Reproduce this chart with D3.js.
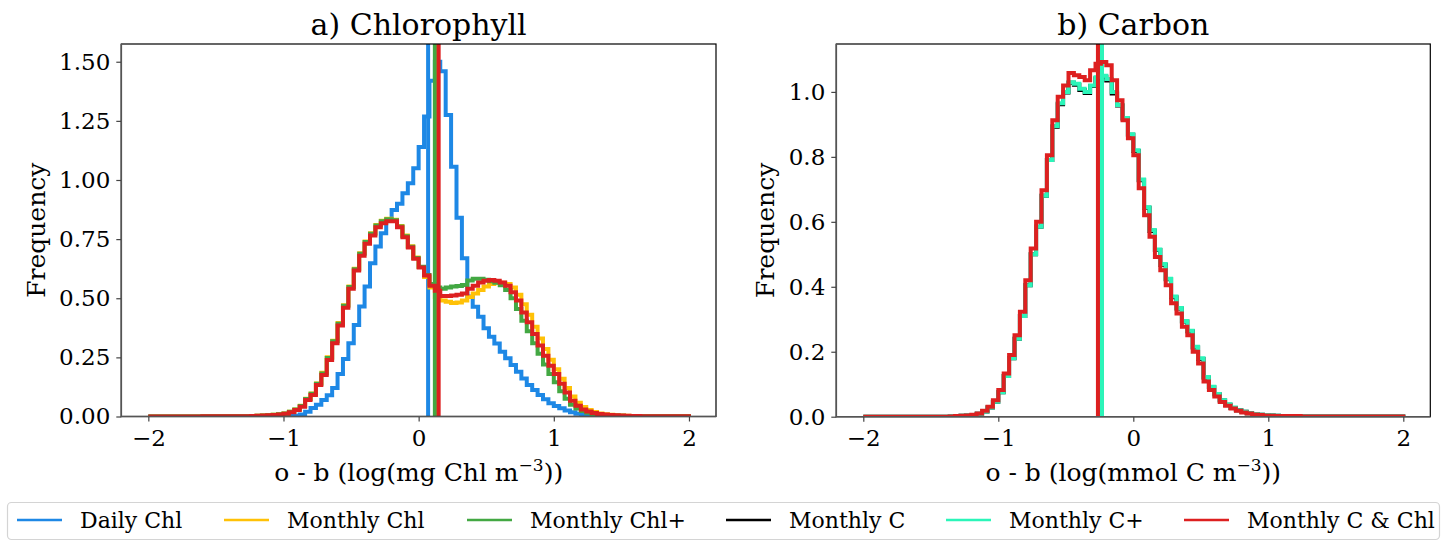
<!DOCTYPE html>
<html>
<head>
<meta charset="utf-8">
<script src="https://cdn.jsdelivr.net/npm/d3@7"></script>
<style>
    body { margin: 0; background: #fff; }
    svg text { font-family: "DejaVu Serif", serif; fill: #000; }
</style>
</head>
<body>
<div id="chart"></div>
<script>

// histogram bins: 100 bins of 0.04 from -2 to 2
const binStart = -2;
const binWidth = 0.04;

// a) Chlorophyll
const chlDaily = [
    0, 0, 0, 0, 0, 0, 0, 0, 0, 0,
    0, 0, 0, 0, 0, 0, 0, 0, 0, 0,
    0, 0, 0, 0, 0, 0.001, 0.002, 0.003, 0.008, 0.02,
    0.036, 0.05, 0.07, 0.09, 0.12, 0.18, 0.243, 0.31, 0.387, 0.465,
    0.55, 0.648, 0.719, 0.775, 0.83, 0.873, 0.90, 0.944, 0.986, 1.05,
    1.14, 1.268, 1.42, 1.50, 1.46, 1.275, 1.056, 0.84, 0.669, 0.507,
    0.464, 0.422, 0.373, 0.337, 0.309, 0.274, 0.246, 0.218, 0.189, 0.161,
    0.133, 0.112, 0.091, 0.073, 0.056, 0.044, 0.035, 0.025, 0.018, 0.012,
    0.008, 0.005, 0.003, 0.002, 0.001, 0.001, 0.001, 0.001, 0, 0,
    0, 0, 0, 0, 0, 0, 0, 0, 0, 0
];
const chlMonthly = [
    0, 0, 0, 0, 0, 0, 0, 0, 0, 0,
    0.001, 0.001, 0.001, 0.001, 0.001, 0.001, 0.001, 0.001, 0.001, 0.002,
    0.003, 0.004, 0.005, 0.007, 0.009, 0.013, 0.02, 0.03, 0.045, 0.075,
    0.097, 0.14, 0.185, 0.25, 0.32, 0.395, 0.47, 0.55, 0.625, 0.69,
    0.74, 0.775, 0.81, 0.828, 0.836, 0.832, 0.805, 0.765, 0.72, 0.672,
    0.632, 0.59, 0.545, 0.505, 0.49, 0.485, 0.48, 0.482, 0.49, 0.505,
    0.52, 0.535, 0.55, 0.56, 0.565, 0.565, 0.56, 0.545, 0.515, 0.475,
    0.43, 0.38, 0.33, 0.285, 0.24, 0.2, 0.16, 0.12, 0.085, 0.058,
    0.04, 0.028, 0.019, 0.013, 0.009, 0.007, 0.005, 0.004, 0.003, 0.002,
    0.001, 0.001, 0.001, 0.001, 0.001, 0.001, 0.001, 0.001, 0.001, 0.001
];
const chlMonthlyPlus = [
    0, 0, 0, 0, 0, 0, 0, 0, 0, 0,
    0.001, 0.001, 0.001, 0.001, 0.001, 0.001, 0.001, 0.001, 0.001, 0.002,
    0.003, 0.004, 0.005, 0.007, 0.009, 0.013, 0.02, 0.03, 0.044, 0.074,
    0.096, 0.138, 0.182, 0.247, 0.318, 0.392, 0.468, 0.548, 0.623, 0.688,
    0.738, 0.773, 0.808, 0.826, 0.834, 0.83, 0.803, 0.762, 0.718, 0.67,
    0.633, 0.598, 0.56, 0.545, 0.54, 0.545, 0.55, 0.552, 0.556, 0.575,
    0.582, 0.582, 0.578, 0.572, 0.566, 0.555, 0.535, 0.5, 0.455, 0.405,
    0.36, 0.31, 0.265, 0.22, 0.18, 0.145, 0.107, 0.075, 0.05, 0.034,
    0.023, 0.016, 0.011, 0.008, 0.006, 0.005, 0.004, 0.003, 0.002, 0.001,
    0.001, 0.001, 0.001, 0.001, 0.001, 0.001, 0.001, 0.001, 0.001, 0.001
];
const chlMonthlyCChl = [
    0, 0, 0, 0, 0, 0, 0, 0, 0, 0,
    0.001, 0.001, 0.001, 0.001, 0.001, 0.001, 0.001, 0.001, 0.001, 0.002,
    0.003, 0.004, 0.005, 0.006, 0.008, 0.012, 0.018, 0.027, 0.041, 0.07,
    0.091, 0.133, 0.175, 0.239, 0.31, 0.385, 0.46, 0.54, 0.617, 0.68,
    0.73, 0.765, 0.80, 0.817, 0.826, 0.826, 0.80, 0.758, 0.715, 0.667,
    0.63, 0.596, 0.553, 0.532, 0.51, 0.51, 0.512, 0.515, 0.52, 0.54,
    0.553, 0.567, 0.574, 0.577, 0.574, 0.567, 0.553, 0.525, 0.49, 0.44,
    0.398, 0.349, 0.30, 0.257, 0.215, 0.18, 0.138, 0.102, 0.067, 0.045,
    0.03, 0.021, 0.015, 0.011, 0.008, 0.006, 0.005, 0.004, 0.003, 0.002,
    0.002, 0.001, 0.001, 0.001, 0.001, 0.001, 0.001, 0.001, 0.001, 0.001
];
// mean o-b of each chlorophyll run (vertical lines)
const chlMeans = [0.07, 0.135, 0.12, 0.148];

// b) Carbon
const carbonMonthlyC = [
    0, 0, 0, 0, 0, 0, 0, 0, 0, 0,
    0, 0, 0, 0, 0, 0, 0.001, 0.002, 0.003, 0.004,
    0.005, 0.009, 0.016, 0.028, 0.046, 0.075, 0.125, 0.18, 0.24, 0.31,
    0.405, 0.5, 0.585, 0.68, 0.79, 0.893, 0.962, 0.998, 1.028, 1.022,
    1.006, 0.997, 1.018, 1.042, 1.047, 1.035, 0.995, 0.958, 0.918, 0.868,
    0.818, 0.728, 0.643, 0.572, 0.513, 0.468, 0.423, 0.368, 0.333, 0.293,
    0.263, 0.213, 0.178, 0.121, 0.091, 0.069, 0.05, 0.037, 0.027, 0.02,
    0.015, 0.011, 0.008, 0.006, 0.005, 0.004, 0.003, 0.002, 0.002, 0.002,
    0.002, 0.001, 0.001, 0.001, 0.001, 0.001, 0.001, 0.001, 0.001, 0.001,
    0.001, 0.001, 0.001, 0.001, 0.001, 0.001, 0.001, 0.001, 0.001, 0.001
];
const carbonMonthlyCPlus = [
    0, 0, 0, 0, 0, 0, 0, 0, 0, 0,
    0, 0, 0, 0, 0, 0, 0.001, 0.002, 0.003, 0.004,
    0.005, 0.009, 0.016, 0.028, 0.046, 0.075, 0.125, 0.18, 0.24, 0.31,
    0.405, 0.5, 0.585, 0.68, 0.79, 0.895, 0.965, 1.0, 1.03, 1.025,
    1.01, 1.0, 1.02, 1.045, 1.05, 1.04, 1.0, 0.96, 0.92, 0.87,
    0.82, 0.73, 0.645, 0.575, 0.515, 0.47, 0.425, 0.37, 0.335, 0.295,
    0.265, 0.215, 0.18, 0.122, 0.092, 0.07, 0.051, 0.038, 0.028, 0.02,
    0.015, 0.011, 0.008, 0.006, 0.005, 0.004, 0.003, 0.002, 0.002, 0.002,
    0.002, 0.001, 0.001, 0.001, 0.001, 0.001, 0.001, 0.001, 0.001, 0.001,
    0.001, 0.001, 0.001, 0.001, 0.001, 0.001, 0.001, 0.001, 0.001, 0.001
];
const carbonMonthlyCChl = [
    0, 0, 0, 0, 0, 0, 0, 0, 0, 0,
    0, 0, 0, 0, 0, 0, 0.001, 0.002, 0.003, 0.004,
    0.006, 0.01, 0.018, 0.031, 0.051, 0.082, 0.133, 0.19, 0.251, 0.323,
    0.42, 0.518, 0.60, 0.697, 0.805, 0.913, 0.985, 1.02, 1.058, 1.051,
    1.046, 1.036, 1.067, 1.087, 1.092, 1.082, 1.036, 0.974, 0.913, 0.857,
    0.805, 0.703, 0.62, 0.554, 0.492, 0.451, 0.405, 0.349, 0.318, 0.277,
    0.251, 0.2, 0.164, 0.108, 0.082, 0.062, 0.045, 0.034, 0.025, 0.018,
    0.013, 0.01, 0.007, 0.005, 0.004, 0.003, 0.002, 0.002, 0.002, 0.002,
    0.002, 0.001, 0.001, 0.001, 0.001, 0.001, 0.001, 0.001, 0.001, 0.001,
    0.001, 0.001, 0.001, 0.001, 0.001, 0.001, 0.001, 0.001, 0.001, 0.001
];
const carbonMeans = [-0.236, -0.232, -0.262];

// legend / run names and colours
const runNames = ["Daily Chl", "Monthly Chl", "Monthly Chl+", "Monthly C", "Monthly C+", "Monthly C & Chl"];
const runColors = ["#1e88e5", "#ffc107", "#43a843", "#000000", "#2bf5b9", "#dd2020"];

const xTicks = [-2, -1, 0, 1, 2];
const chlYTicks = [0, 0.25, 0.5, 0.75, 1.0, 1.25, 1.5];
const carbonYTicks = [0, 0.2, 0.4, 0.6, 0.8, 1.0];


/* * * * * * * * * * * * * *
*     class HistPanel      *
* * * * * * * * * * * * * */

class HistPanel {

    constructor(svg, config) {
        this.svg = svg;
        this.config = config;
        this.initVis();
    }

    initVis() {
        let vis = this;
        let c = vis.config;

        vis.x = d3.scaleLinear().domain([-2.2, 2.2]).range([c.left, c.right]);
        vis.y = d3.scaleLinear().domain([0, c.yMax]).range([c.bottom, c.top]);

        vis.g = vis.svg.append("g").attr("class", "panel-" + c.id);

        // clip path
        vis.g.append("defs")
            .append("clipPath")
            .attr("id", "clip-" + c.id)
            .append("rect")
            .attr("x", c.left)
            .attr("y", c.top)
            .attr("width", c.right - c.left)
            .attr("height", c.bottom - c.top);

        vis.plot = vis.g.append("g").attr("clip-path", "url(#clip-" + c.id + ")");

        // step line generator
        vis.line = d3.line()
            .curve(d3.curveStepAfter)
            .x(d => vis.x(d[0]))
            .y(d => vis.y(d[1]));

        vis.wrangleData();
    }

    wrangleData() {
        let vis = this;

        // outline points of each histogram: up from 0 at the first edge, down to 0 at the last one
        vis.displayData = vis.config.series.map(s => {
            let pts = [[binStart, 0]];
            s.values.forEach((v, i) => pts.push([binStart + i * binWidth, v]));
            pts.push([binStart + s.values.length * binWidth, 0]);
            return {color: s.color, mean: s.mean, pts: pts};
        });

        vis.updateVis();
    }

    updateVis() {
        let vis = this;
        let c = vis.config;

        vis.displayData.forEach(s => {
            vis.plot.append("path")
                .datum(s.pts)
                .attr("d", vis.line)
                .attr("fill", "none")
                .attr("stroke", s.color)
                .attr("stroke-width", 4)
                .attr("stroke-linejoin", "miter");

            vis.plot.append("line")
                .attr("x1", vis.x(s.mean))
                .attr("x2", vis.x(s.mean))
                .attr("y1", c.top - 5)
                .attr("y2", c.bottom + 5)
                .attr("stroke", s.color)
                .attr("stroke-width", 4);
        });

        // axes
        let minus = d => (d < 0 ? "\u2212" + Math.abs(d) : "" + d);

        vis.g.append("g")
            .attr("class", "x-axis")
            .attr("transform", "translate(0," + c.bottom + ")")
            .call(d3.axisBottom(vis.x).tickValues(xTicks).tickFormat(minus).tickSize(5).tickPadding(8));

        vis.g.append("g")
            .attr("class", "y-axis")
            .attr("transform", "translate(" + c.left + ",0)")
            .call(d3.axisLeft(vis.y).tickValues(c.yTicks).tickFormat(d3.format(c.yFormat)).tickSize(5).tickPadding(6));

        vis.g.selectAll(".x-axis text, .y-axis text")
            .attr("font-size", "23px")
            .attr("font-family", "DejaVu Serif");
        vis.g.selectAll(".x-axis .domain, .y-axis .domain").remove();
        vis.g.selectAll(".tick line").attr("stroke", "#444").attr("stroke-width", 1.2);

        // spines
        vis.g.append("rect")
            .attr("x", c.left)
            .attr("y", c.top)
            .attr("width", c.right - c.left)
            .attr("height", c.bottom - c.top)
            .attr("fill", "none")
            .attr("stroke", "#000")
            .attr("stroke-width", 1.2);
        vis.g.append("path")
            .attr("d", `M${c.left},${c.top}V${c.bottom}H${c.right}`)
            .attr("fill", "none")
            .attr("stroke", "#555")
            .attr("stroke-width", 1.6);

        // title
        vis.g.append("text")
            .text(c.title)
            .attr("x", (c.left + c.right) / 2)
            .attr("y", 35)
            .attr("text-anchor", "middle")
            .attr("font-size", "30px");

        // y label
        vis.g.append("text")
            .text("Frequency")
            .attr("transform", `translate(${c.yLabelX}, ${(c.top + c.bottom) / 2}) rotate(-90)`)
            .attr("text-anchor", "middle")
            .attr("dy", "0.35em")
            .attr("font-size", "25px");

        // x label with superscript
        let xl = vis.g.append("text")
            .attr("x", (c.left + c.right) / 2)
            .attr("y", 481)
            .attr("text-anchor", "middle")
            .attr("font-size", "25px");
        xl.append("tspan").text(c.unit);
        xl.append("tspan").text("\u22123").attr("font-size", "17px").attr("dy", "-10");
        xl.append("tspan").text("))").attr("dy", "10");
    }
}

let svg = d3.select("#chart").append("svg")
    .attr("width", 1454)
    .attr("height", 541);

let chlPanel = new HistPanel(svg, {
    id: "chl",
    left: 121.3, right: 716, top: 44, bottom: 416.5,
    yMax: 1.575,
    yTicks: chlYTicks, yFormat: ".2f",
    title: "a) Chlorophyll",
    unit: "o - b (log(mg Chl m",
    yLabelX: 36,
    series: [
        {values: chlDaily, color: runColors[0], mean: chlMeans[0]},
        {values: chlMonthly, color: runColors[1], mean: chlMeans[1]},
        {values: chlMonthlyPlus, color: runColors[2], mean: chlMeans[2]},
        {values: chlMonthlyCChl, color: runColors[5], mean: chlMeans[3]}
    ]
});

let carbonPanel = new HistPanel(svg, {
    id: "carbon",
    left: 836.3, right: 1430.3, top: 44, bottom: 416.7,
    yMax: 1.1475,
    yTicks: carbonYTicks, yFormat: ".1f",
    title: "b) Carbon",
    unit: "o - b (log(mmol C m",
    yLabelX: 765,
    series: [
        {values: carbonMonthlyC, color: runColors[3], mean: carbonMeans[0]},
        {values: carbonMonthlyCPlus, color: runColors[4], mean: carbonMeans[1]},
        {values: carbonMonthlyCChl, color: runColors[5], mean: carbonMeans[2]}
    ]
});

// legend below both panels
let legend = svg.append("g").attr("class", "legend");

legend.append("rect")
    .attr("x", 7.5)
    .attr("y", 502.5)
    .attr("width", 1432)
    .attr("height", 37)
    .attr("rx", 4)
    .attr("fill", "#fff")
    .attr("stroke", "#d4d4d4")
    .attr("stroke-width", 1.2);

let legendX = [17, 224, 467, 726, 946, 1184];

runNames.forEach((name, i) => {
    legend.append("line")
        .attr("x1", legendX[i])
        .attr("x2", legendX[i] + 45)
        .attr("y1", 520)
        .attr("y2", 520)
        .attr("stroke", runColors[i])
        .attr("stroke-width", 2.6);
    legend.append("text")
        .text(name)
        .attr("x", legendX[i] + 63)
        .attr("y", 520)
        .attr("dy", "0.35em")
        .attr("font-size", "22px");
});

</script>
</body>
</html>
